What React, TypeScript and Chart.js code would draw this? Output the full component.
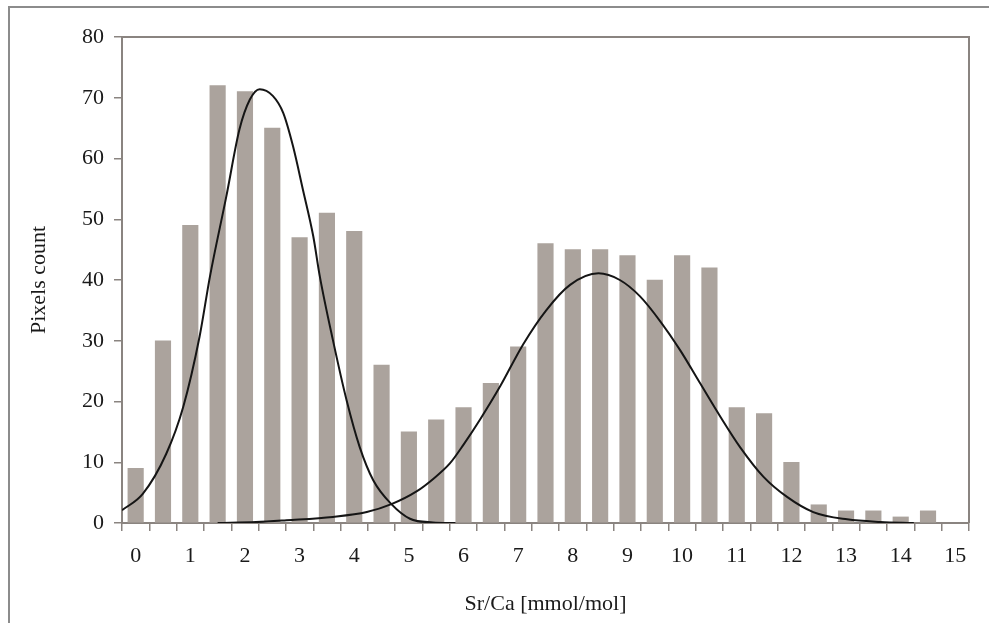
import React, { useEffect, useRef } from "react";
import { Chart, registerables } from "chart.js";

Chart.register(...registerables);

// Bin centres (Sr/Ca, mmol/mol)
const binCenters: number[] = [
  0, 0.5, 1, 1.5, 2, 2.5, 3, 3.5, 4, 4.5,
  5, 5.5, 6, 6.5, 7, 7.5, 8, 8.5, 9, 9.5,
  10, 10.5, 11, 11.5, 12, 12.5, 13, 13.5, 14, 14.5,
];

// Histogram counts (pixels count) per bin
const pixelCounts: number[] = [
  9, 30, 49, 72, 71, 65, 47, 51, 48, 26,
  15, 17, 19, 23, 29, 46, 45, 45, 44, 40,
  44, 42, 19, 18, 10, 3, 2, 2, 1, 2,
];

// Fitted curve 1
const curve1X: number[] = [-0.25, 0.13, 0.56, 0.87, 1.17, 1.36, 1.66, 1.9, 2.09, 2.27, 2.51, 2.7, 2.88, 3.06, 3.25, 3.37, 3.61, 3.86, 4.1, 4.35, 4.68, 5.02, 5.44, 5.85];
const curve1Y: number[] = [2.1, 4.8, 11.4, 19.1, 30.7, 40.6, 53.8, 64.8, 69.7, 71.4, 70.3, 67.5, 62.0, 54.9, 47.2, 40.6, 30.1, 20.2, 12.5, 7.0, 3.1, 0.7, 0.1, 0];

// Fitted curve 2
const curve2X: number[] = [1.5, 2.2, 2.76, 3.61, 4.23, 4.68, 5.14, 5.45, 5.75, 6.0, 6.3, 6.67, 7.09, 7.52, 7.95, 8.47, 8.86, 9.23, 9.6, 9.96, 10.33, 10.7, 11.06, 11.49, 11.92, 12.4, 13.02, 13.63, 14.24];
const curve2Y: number[] = [0, 0.15, 0.45, 1.0, 1.8, 3.1, 5.2, 7.3, 9.8, 12.9, 17.0, 22.5, 29.4, 35.1, 39.2, 41.1, 40.0, 37.3, 33.2, 28.5, 23.0, 17.5, 12.5, 7.6, 4.3, 1.8, 0.6, 0.17, 0];

// Axis ticks
const xLabelTicks: number[] = [0, 1, 2, 3, 4, 5, 6, 7, 8, 9, 10, 11, 12, 13, 14, 15];
const xBoundaryTicks: number[] = [
  -0.25, 0.25, 0.75, 1.25, 1.75, 2.25, 2.75, 3.25, 3.75, 4.25, 4.75,
  5.25, 5.75, 6.25, 6.75, 7.25, 7.75, 8.25, 8.75, 9.25, 9.75,
  10.25, 10.75, 11.25, 11.75, 12.25, 12.75, 13.25, 13.75, 14.25, 14.75, 15.25,
];
const yTicks: number[] = [0, 10, 20, 30, 40, 50, 60, 70, 80];

const FONT = "'Liberation Serif', 'Times New Roman', serif";
const AXIS = "#8a8480";
const BAR = "#aba39d";
const TEXT = "#1a1a1a";

export default function App() {
  const ref = useRef<HTMLCanvasElement | null>(null);

  useEffect(() => {
    document.body.style.margin = "0";
    const canvas = ref.current;
    if (!canvas) return;

    const boundarySet = new Set(xBoundaryTicks);
    const labelSet = new Set(xLabelTicks);

    const boxPlugin = {
      id: "plotBox",
      beforeDatasetsDraw(chart: any) {
        const { ctx, chartArea } = chart;
        ctx.save();
        ctx.strokeStyle = AXIS;
        ctx.lineWidth = 2;
        ctx.beginPath();
        ctx.moveTo(chartArea.left, chartArea.top);
        ctx.lineTo(chartArea.right, chartArea.top);
        ctx.lineTo(chartArea.right, chartArea.bottom);
        ctx.stroke();
        ctx.restore();
      },
    };

    const chart = new Chart(canvas, {
      type: "bar",
      data: {
        datasets: [
          {
            type: "line",
            label: "Fit 2",
            data: curve2X.map((x, i) => ({ x, y: curve2Y[i] })),
            borderColor: "#151515",
            borderWidth: 2,
            pointRadius: 0,
            cubicInterpolationMode: "monotone",
            fill: false,
            order: 0,
          } as any,
          {
            type: "line",
            label: "Fit 1",
            data: curve1X.map((x, i) => ({ x, y: curve1Y[i] })),
            borderColor: "#151515",
            borderWidth: 2,
            pointRadius: 0,
            cubicInterpolationMode: "monotone",
            fill: false,
            order: 1,
          } as any,
          {
            type: "bar",
            label: "Pixels count",
            data: binCenters.map((x, i) => ({ x, y: pixelCounts[i] })),
            backgroundColor: BAR,
            borderWidth: 0,
            barThickness: 15.5,
            order: 2,
          } as any,
        ],
      },
      options: {
        responsive: false,
        animation: false,
        layout: { padding: { top: 37, right: 20, left: 0, bottom: 0 } },
        plugins: {
          legend: { display: false },
          tooltip: { enabled: false },
        },
        scales: {
          x: {
            type: "linear",
            min: -0.25,
            max: 15.25,
            offset: false,
            afterBuildTicks: (s: any) => {
              const vals = Array.from(new Set([...xBoundaryTicks, ...xLabelTicks])).sort((a, b) => a - b);
              s.ticks = vals.map((v) => ({ value: v }));
            },
            grid: {
              offset: false,
              drawOnChartArea: false,
              drawTicks: true,
              tickLength: 8,
              color: (c: any) => (c.tick && boundarySet.has(c.tick.value) ? AXIS : "rgba(0,0,0,0)"),
              lineWidth: 1.5,
            },
            border: { color: AXIS, width: 2 },
            ticks: {
              autoSkip: false,
              maxRotation: 0,
              minRotation: 0,
              padding: 12,
              color: TEXT,
              font: { family: FONT, size: 22 },
              callback: (v: any) => (labelSet.has(Number(v)) ? String(v) : ""),
            },
            title: {
              display: true,
              text: "Sr/Ca [mmol/mol]",
              color: TEXT,
              font: { family: FONT, size: 22 },
              padding: { top: 0, bottom: 6 },
            },
            afterFit: (s: any) => {
              s.height = 100;
            },
          } as any,
          y: {
            type: "linear",
            min: 0,
            max: 80,
            afterBuildTicks: (s: any) => {
              s.ticks = yTicks.map((v) => ({ value: v }));
            },
            grid: {
              drawOnChartArea: false,
              drawTicks: true,
              tickLength: 8,
              color: AXIS,
              lineWidth: 1.5,
            },
            border: { color: AXIS, width: 2 },
            ticks: {
              padding: 10,
              color: TEXT,
              font: { family: FONT, size: 22 },
            },
            title: {
              display: true,
              text: "Pixels count",
              color: TEXT,
              font: { family: FONT, size: 22 },
              padding: { top: 26, bottom: 0 },
            },
            afterFit: (s: any) => {
              s.width = 122;
            },
          } as any,
        },
      },
      plugins: [boxPlugin],
    });

    return () => chart.destroy();
  }, []);

  return (
    <div style={{ position: "relative", width: 989, height: 623, overflow: "hidden", background: "#fff" }}>
      <div
        style={{
          position: "absolute",
          left: 8,
          top: 6,
          width: 1200,
          height: 900,
          border: "2px solid #8c8c8c",
          boxSizing: "border-box",
        }}
      />
      <canvas ref={ref} width={989} height={623} style={{ position: "absolute", left: 0, top: 0 }} />
    </div>
  );
}
